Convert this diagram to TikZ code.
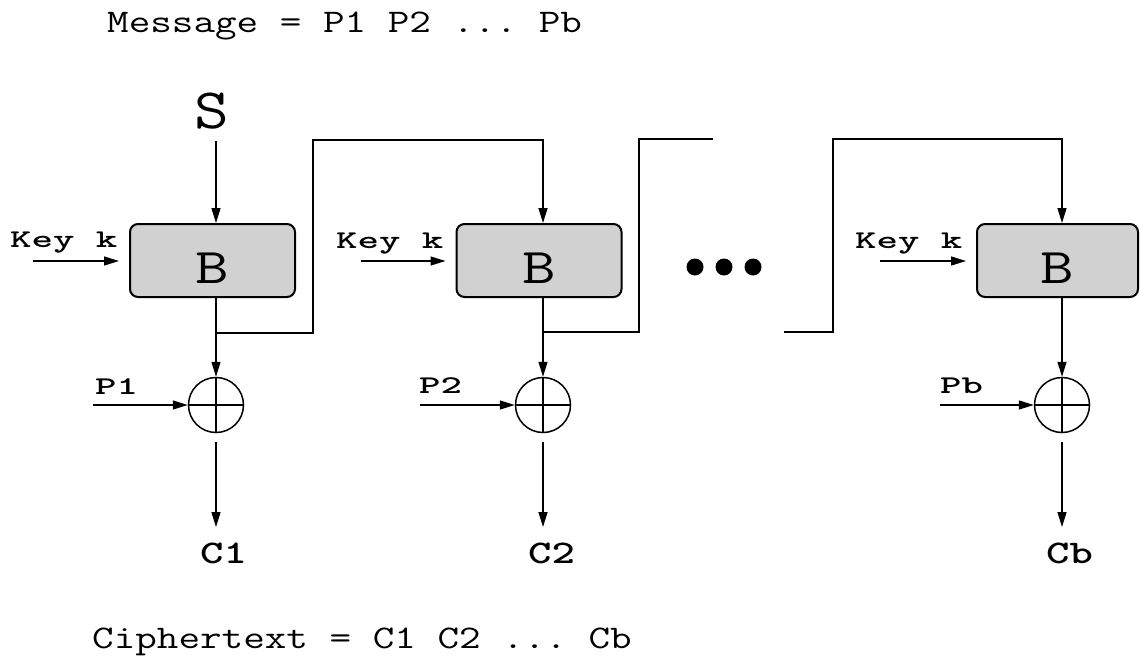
\documentclass[tikz,border=0pt]{standalone}
\usepackage{fontspec}
\usepackage{graphicx}
\usetikzlibrary{arrows.meta}
\newcommand\boldlab[1]{\scalebox{1.6}[1]{\ttfamily\bfseries\fontsize{25.5}{25.5}\selectfont\addfontfeature{FakeBold=3.5}#1}}
\newcommand\outlab[1]{\scalebox{1.35}[1]{\ttfamily\bfseries\fontsize{33}{33}\selectfont\addfontfeature{FakeBold=3}#1}}
\newcommand\biglab[1]{\scalebox{1.27}[1]{\ttfamily\fontsize{33}{33}\selectfont #1}}
\frenchspacing
\begin{document}
\begin{tikzpicture}[x=1pt,y=-1pt,
  ln/.style={line width=1.4pt},
  arr/.style={ln,-{Triangle[length=15pt,width=9pt]}},
  blk/.style={draw,line width=2pt,rounded corners=8pt,fill=black!18,
    minimum width=165pt,minimum height=73pt,inner sep=0pt,
    font=\ttfamily\fontsize{50}{50}\selectfont,text height=45pt,text depth=0pt},
  xor/.style={draw,circle,line width=1.5pt,minimum size=55pt,inner sep=0pt,
    path picture={\draw[line width=1.5pt]
      (path picture bounding box.north) -- (path picture bounding box.south)
      (path picture bounding box.west) -- (path picture bounding box.east);}},
  lab/.style={inner sep=0pt,anchor=base west},
  dot/.style={circle,fill=black,minimum size=17pt,inner sep=0pt}
]
\useasboundingbox (0,0) rectangle (1140,667);
\fill[white] (0,0) rectangle (1140,667);

% texts
\node[lab] (msg) at (107,32) {\biglab{Message = P1 P2 ... Pb}};
\node[lab] (cip) at (92,648) {\biglab{Ciphertext = C1 C2 ... Cb}};
\node[inner sep=0pt,anchor=base,font=\ttfamily\fontsize{57}{57}\selectfont] (s) at (212,128) {\scalebox{1.18}[1]{S}};

% blocks
\node[blk] (b1) at (212.5,260.5) {\scalebox{1.3}[1]{B}};
\node[blk] (b2) at (539,260.5) {\scalebox{1.3}[1]{B}};
\node[blk,minimum width=161pt] (b3) at (1057.5,260.5) {\scalebox{1.3}[1]{B}};

% xor
\node[xor] (x1) at (216,405) {};
\node[xor] (x2) at (543,405) {};
\node[xor] (x3) at (1062,405) {};

% labels
\node[lab] (k1) at (10,247) {\boldlab{Key k}};
\node[lab] (k2) at (336,248) {\boldlab{Key k}};
\node[lab] (k3) at (855,248) {\boldlab{Key k}};
\node[lab] (p1) at (95,394) {\boldlab{P1}};
\node[lab] (p2) at (419,393) {\boldlab{P2}};
\node[lab] (pb) at (940,393) {\boldlab{Pb}};
\node[lab] (c1) at (200,563) {\outlab{C1}};
\node[lab] (c2) at (528,563) {\outlab{C2}};
\node[lab] (cb) at (1046,563) {\outlab{Cb}};

% dots
\node[dot] (d1) at (695,267) {};
\node[dot] (d2) at (724,267) {};
\node[dot] (d3) at (753,267) {};

% coordinates
\coordinate (k1s) at (33,261);
\coordinate (k2s) at (361,261);
\coordinate (k3s) at (880,261);
\coordinate (p1s) at (93,405);
\coordinate (p2s) at (420,405);
\coordinate (p3s) at (940,405);
\coordinate (j1) at (216,333);
\coordinate (t1) at (313,140);
\coordinate (j2) at (543,332);
\coordinate (t2) at (639,139);
\coordinate (e2) at (713,139);
\coordinate (s3) at (784,332);
\coordinate (t3) at (833,139);
\coordinate (o1) at (216,527);
\coordinate (o2) at (543,527);
\coordinate (o3) at (1062,527);

% connectors
\draw[arr,shorten <=12pt] (s.south -| x1) -- (x1 |- b1.north);
\draw[arr] (b1.south -| x1) -- (x1.north);
\draw[arr] (b2.south -| x2) -- (x2.north);
\draw[arr] (b3.south -| x3) -- (x3.north);
\draw[arr] (j1) -| (t1) -| (x2 |- b2.north);
\draw[ln] (j2) -| (t2) -- (e2);
\draw[arr] (s3) -| (t3) -| (x3 |- b3.north);
\draw[arr,shorten >=10pt] (k1s) -- (b1.west |- k1s);
\draw[arr,shorten >=10pt] (k2s) -- (b2.west |- k2s);
\draw[arr,shorten >=10pt] (k3s) -- (b3.west |- k3s);
\draw[arr] (p1s) -- (x1.west);
\draw[arr] (p2s) -- (x2.west);
\draw[arr] (p3s) -- (x3.west);
\draw[arr,shorten <=9pt] (x1.south) -- (o1);
\draw[arr,shorten <=9pt] (x2.south) -- (o2);
\draw[arr,shorten <=9pt] (x3.south) -- (o3);
\end{tikzpicture}
\end{document}
